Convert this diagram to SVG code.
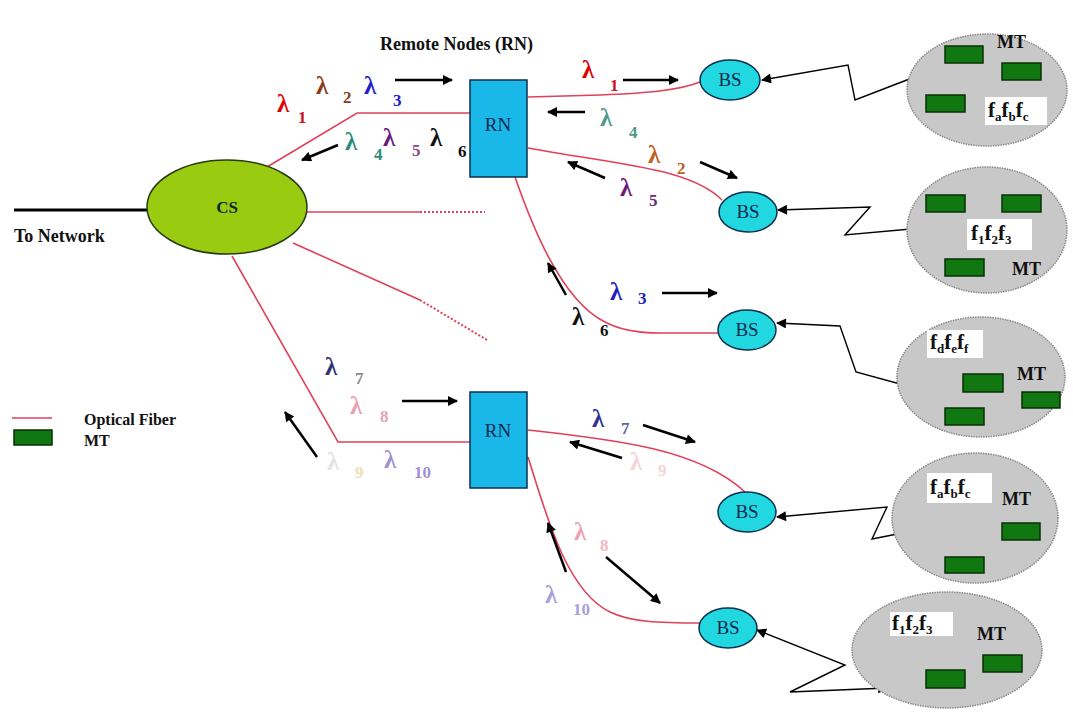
<svg xmlns="http://www.w3.org/2000/svg" width="1073" height="713" viewBox="0 0 1073 713">
<defs>
<marker id="ah2" viewBox="0 0 10 10" refX="9" refY="5" markerWidth="12" markerHeight="10" orient="auto-start-reverse" markerUnits="userSpaceOnUse"><path d="M0,0 L10,5 L0,10 z" fill="#000"/></marker>
</defs>
<style>
text{font-family:"Liberation Serif","Times New Roman",serif;font-weight:bold}
.fib{fill:none;stroke:#e0405a;stroke-width:1.6}
.dot{fill:none;stroke:#e0405a;stroke-width:2;stroke-dasharray:2 2}
.arr{fill:none;stroke:#000;stroke-width:2.5;marker-end:url(#ah2)}
.wl{fill:none;stroke:#000;stroke-width:1.4;marker-start:url(#ah2);marker-end:url(#ah2)}
.cloud{fill:#c8c8c8;stroke:#888;stroke-width:1.5;stroke-dasharray:1.5 1}
.mt{fill:#117711;stroke:#063006;stroke-width:1.5}
.lbl{fill:#fff}
.l{font-size:25px}
.s{font-size:17px}
.rn{fill:#1ab8e8;stroke:#0a3050;stroke-width:1.5}
.bs{fill:#22d8e0;stroke:#0a3050;stroke-width:1.5}
.nt{font-size:19px;fill:#0a2a50;font-weight:normal}
.mtx{font-size:18px;fill:#111}
.fx{font-size:21px;fill:#111}
.ff{font-size:13px;fill:#111}
</style>
<rect width="1073" height="713" fill="#fff"/>

<g id="connectors">
<line x1="14" y1="210" x2="148" y2="210" stroke="#000" stroke-width="3"/>
<path class="fib" d="M267,167 L357,113 L470,113"/>
<path class="fib" d="M306,212 L420,212"/>
<path class="dot" d="M420,212 L485,212"/>
<path class="fib" d="M293,243 L420,300"/>
<path class="dot" d="M420,300 L487,340"/>
<path class="fib" d="M232,256 L338,442 L470,442"/>
<path class="fib" d="M528,97 L600,95 C650,93 680,90 700,82"/>
<path class="fib" d="M528,148 C620,165 690,168 722,200"/>
<path class="fib" d="M515,177 C530,220 560,300 605,322 C620,330 640,333 660,333 L720,333"/>
<path class="fib" d="M528,430 C620,440 700,450 745,492"/>
<path class="fib" d="M528,457 C545,510 565,590 610,612 C630,622 660,623 700,623"/>

<path class="wl" d="M762,80 L848,65 L855,100 L925,73"/>
<path class="wl" d="M778,210 L870,207 L845,235 L922,228"/>
<path class="wl" d="M777,323 L840,326 L856,372 L922,390"/>
<path class="wl" d="M777,517 L887,507 L872,539 L943,525"/>
<path class="wl" d="M757,630 L845,665 L790,692 L887,688"/>

<line class="arr" x1="395" y1="80" x2="452" y2="80"/>
<line class="arr" x1="338" y1="145" x2="302" y2="160"/>
<line class="arr" x1="623" y1="80" x2="678" y2="80"/>
<line class="arr" x1="585" y1="112" x2="548" y2="112"/>
<line class="arr" x1="700" y1="162" x2="737" y2="178"/>
<line class="arr" x1="605" y1="178" x2="568" y2="162"/>
<line class="arr" x1="662" y1="293" x2="717" y2="293"/>
<line class="arr" x1="566" y1="295" x2="548" y2="263"/>
<line class="arr" x1="402" y1="401" x2="457" y2="401"/>
<line class="arr" x1="317" y1="457" x2="285" y2="412"/>
<line class="arr" x1="643" y1="425" x2="695" y2="442"/>
<line class="arr" x1="622" y1="458" x2="570" y2="442"/>
<line class="arr" x1="606" y1="557" x2="660" y2="603"/>
<line class="arr" x1="566" y1="572" x2="548" y2="523"/>
</g>

<g id="labels">
<text x="380" y="50" font-size="18" fill="#111">Remote Nodes (RN)</text>
<text x="14" y="242" font-size="18" fill="#111">To Network</text>
<text x="277" y="112" class="l" fill="#e00000">λ</text><text x="298" y="123" class="s" fill="#d01020">1</text>
<text x="316" y="94" class="l" fill="#8b3a1a">λ</text><text x="343" y="103" class="s" fill="#8b3a1a">2</text>
<text x="364" y="94" class="l" fill="#2020d0">λ</text><text x="393" y="106" class="s" fill="#2020d0">3</text>
<text x="345" y="150" class="l" fill="#2e8b7b">λ</text><text x="374" y="160" class="s" fill="#2e8b7b">4</text>
<text x="383" y="146" class="l" fill="#6a1a7a">λ</text><text x="412" y="156" class="s" fill="#8a4a8a">5</text>
<text x="430" y="146" class="l" fill="#111">λ</text><text x="458" y="157" class="s" fill="#111">6</text>

<text x="582" y="78" class="l" fill="#e00000">λ</text><text x="610" y="91" class="s" fill="#d01020">1</text>
<text x="600" y="126" class="l" fill="#4a9a8a">λ</text><text x="629" y="138" class="s" fill="#4a9a8a">4</text>
<text x="648" y="163" class="l" fill="#c06020">λ</text><text x="677" y="174" class="s" fill="#c06020">2</text>
<text x="620" y="196" class="l" fill="#6a1a7a">λ</text><text x="649" y="206" class="s" fill="#6a2a7a">5</text>

<text x="610" y="300" class="l" fill="#2020c0">λ</text><text x="638" y="304" class="s" fill="#2020c0">3</text>
<text x="572" y="325" class="l" fill="#111">λ</text><text x="600" y="336" class="s" fill="#111">6</text>

<text x="325" y="375" class="l" fill="#303070">λ</text><text x="355" y="384" class="s" fill="#888">7</text>
<text x="350" y="414" class="l" fill="#e8a0b0">λ</text><text x="380" y="422" class="s" fill="#e8a0b0">8</text>
<text x="327" y="470" class="l" fill="#e4e4e4">λ</text><text x="355" y="478" class="s" fill="#eee0b8">9</text>
<text x="384" y="468" class="l" fill="#a090d0">λ</text><text x="414" y="478" class="s" fill="#a090d0">10</text>

<text x="592" y="427" class="l" fill="#303090">λ</text><text x="621" y="434" class="s" fill="#6060a0">7</text>
<text x="630" y="470" class="l" fill="#f4d4d8">λ</text><text x="658" y="476" class="s" fill="#f4d4d8">9</text>
<text x="574" y="540" class="l" fill="#f0a0b0">λ</text><text x="600" y="551" class="s" fill="#f4b4c0">8</text>
<text x="545" y="603" class="l" fill="#a8a0d8">λ</text><text x="573" y="615" class="s" fill="#a8a0d8">10</text>
</g>

<g id="legend">
<line x1="12" y1="418" x2="52" y2="418" stroke="#e0405a" stroke-width="1.6"/>
<text x="84" y="425" font-size="16" fill="#111">Optical Fiber</text>
<rect class="mt" x="14" y="430" width="38" height="15"/>
<text x="84" y="446" font-size="16" fill="#111">MT</text>
</g>

<g id="CS">
<ellipse cx="227" cy="207" rx="80" ry="47" fill="#99cc11" stroke="#2a3a10" stroke-width="1.5"/>
<text x="227" y="213" text-anchor="middle" font-size="17" fill="#0a2a30">CS</text>
</g>
<g id="RN1">
<rect class="rn" x="470" y="80" width="57" height="97"/>
<text x="498" y="131" text-anchor="middle" class="nt">RN</text>
</g>
<g id="RN2">
<rect class="rn" x="470" y="392" width="57" height="96"/>
<text x="498" y="437" text-anchor="middle" class="nt">RN</text>
</g>
<g id="BS1"><ellipse class="bs" cx="730" cy="80" rx="30" ry="20"/><text x="730" y="86" text-anchor="middle" class="nt">BS</text></g>
<g id="BS2"><ellipse class="bs" cx="748" cy="212" rx="29" ry="20"/><text x="748" y="218" text-anchor="middle" class="nt">BS</text></g>
<g id="BS3"><ellipse class="bs" cx="747" cy="330" rx="29" ry="20"/><text x="747" y="336" text-anchor="middle" class="nt">BS</text></g>
<g id="BS4"><ellipse class="bs" cx="747" cy="512" rx="29" ry="20"/><text x="747" y="518" text-anchor="middle" class="nt">BS</text></g>
<g id="BS5"><ellipse class="bs" cx="728" cy="628" rx="29" ry="20"/><text x="728" y="634" text-anchor="middle" class="nt">BS</text></g>

<g id="MT1">
<ellipse class="cloud" cx="987" cy="90" rx="80" ry="56"/>
<rect class="mt" x="945" y="46" width="38" height="17"/>
<rect class="mt" x="1002" y="63" width="39" height="17"/>
<rect class="mt" x="926" y="95" width="39" height="17"/>
<rect class="lbl" x="985" y="97" width="62" height="28"/>
<text x="988" y="117" class="fx">f<tspan class="ff" dy="4">a</tspan><tspan dy="-4">f</tspan><tspan class="ff" dy="4">b</tspan><tspan dy="-4">f</tspan><tspan class="ff" dy="4">c</tspan></text>
<text x="997" y="48" class="mtx">MT</text>
</g>
<g id="MT2">
<ellipse class="cloud" cx="987" cy="230" rx="80" ry="63"/>
<rect class="mt" x="926" y="195" width="39" height="17"/>
<rect class="mt" x="1002" y="195" width="39" height="17"/>
<rect class="mt" x="945" y="259" width="39" height="17"/>
<rect class="lbl" x="967" y="219" width="65" height="31"/>
<text x="971" y="240" class="fx">f<tspan class="ff" dy="4">1</tspan><tspan dy="-4">f</tspan><tspan class="ff" dy="4">2</tspan><tspan dy="-4">f</tspan><tspan class="ff" dy="4">3</tspan></text>
<text x="1012" y="275" class="mtx">MT</text>
</g>
<g id="MT3">
<ellipse class="cloud" cx="981" cy="377" rx="84" ry="60"/>
<rect class="mt" x="963" y="374" width="40" height="18"/>
<rect class="mt" x="1022" y="392" width="38" height="16"/>
<rect class="mt" x="945" y="408" width="39" height="17"/>
<rect class="lbl" x="927" y="330" width="56" height="28"/>
<text x="930" y="349" class="fx">f<tspan class="ff" dy="4">d</tspan><tspan dy="-4">f</tspan><tspan class="ff" dy="4">e</tspan><tspan dy="-4">f</tspan><tspan class="ff" dy="4">f</tspan></text>
<text x="1017" y="380" class="mtx">MT</text>
</g>
<g id="MT4">
<ellipse class="cloud" cx="975" cy="518" rx="83" ry="65"/>
<rect class="mt" x="1002" y="523" width="38" height="17"/>
<rect class="mt" x="945" y="557" width="39" height="16"/>
<rect class="lbl" x="927" y="473" width="65" height="30"/>
<text x="930" y="494" class="fx">f<tspan class="ff" dy="4">a</tspan><tspan dy="-4">f</tspan><tspan class="ff" dy="4">b</tspan><tspan dy="-4">f</tspan><tspan class="ff" dy="4">c</tspan></text>
<text x="1002" y="505" class="mtx">MT</text>
</g>
<g id="MT5">
<ellipse class="cloud" cx="947" cy="650" rx="95" ry="58"/>
<rect class="mt" x="983" y="655" width="39" height="17"/>
<rect class="mt" x="926" y="670" width="39" height="18"/>
<rect class="lbl" x="890" y="612" width="63" height="24"/>
<text x="892" y="630" class="fx">f<tspan class="ff" dy="4">1</tspan><tspan dy="-4">f</tspan><tspan class="ff" dy="4">2</tspan><tspan dy="-4">f</tspan><tspan class="ff" dy="4">3</tspan></text>
<text x="977" y="640" class="mtx">MT</text>
</g>
</svg>
